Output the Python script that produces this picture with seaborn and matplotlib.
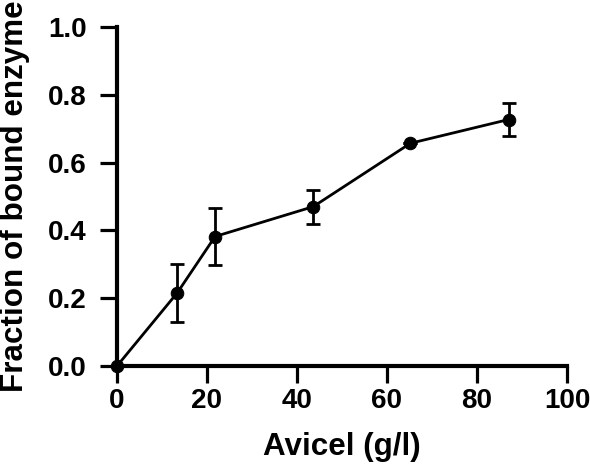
import numpy as np
import matplotlib
matplotlib.use('Agg')
import matplotlib.pyplot as plt
import seaborn as sns
import pandas as pd

# Avicel loading (g/l) vs fraction of bound enzyme
avicel = [0, 13.4, 21.8, 43.6, 65.2, 87.0]
bound = [0.0, 0.216, 0.382, 0.470, 0.657, 0.727]
bound_err = [0.0, 0.085, 0.084, 0.050, 0.0, 0.050]

df = pd.DataFrame({'Avicel (g/l)': avicel, 'Fraction of bound enzyme': bound})

sns.set_style('ticks')
plt.rcParams['font.family'] = ['Liberation Sans', 'DejaVu Sans']
plt.rcParams['font.weight'] = 'bold'
plt.rcParams['text.color'] = 'black'
plt.rcParams['axes.labelcolor'] = 'black'
plt.rcParams['xtick.color'] = 'black'
plt.rcParams['ytick.color'] = 'black'

fig = plt.figure(figsize=(5.9, 4.66), dpi=100)
ax = fig.add_axes([117 / 590, 100 / 466, 450 / 590, 339 / 466])

sns.lineplot(data=df, x='Avicel (g/l)', y='Fraction of bound enzyme', ax=ax,
             color='black', linewidth=2, marker='o', markersize=9,
             markeredgecolor='black', zorder=3)
ax.errorbar(avicel, bound, yerr=bound_err, fmt='none', ecolor='black',
            elinewidth=2, capsize=5, capthick=2, zorder=2)

ax.set_xlim(0, 100)
ax.set_ylim(0, 1.0)
ax.set_xticks([0, 20, 40, 60, 80, 100])
ax.set_yticks([0.0, 0.2, 0.4, 0.6, 0.8, 1.0])
ax.set_yticklabels(['0.0', '0.2', '0.4', '0.6', '0.8', '1.0'])

ax.set_xlabel('Avicel (g/l)', fontsize=22.6, fontweight='bold', labelpad=13)
ax.set_ylabel('Fraction of bound enzyme', fontsize=22.6, fontweight='bold', labelpad=13)
ax.tick_params(axis='both', labelsize=20, width=2.3, length=12, color='black',
               labelcolor='black')
ax.tick_params(axis='x', pad=4)
ax.tick_params(axis='y', pad=10)
for lbl in ax.get_xticklabels() + ax.get_yticklabels():
    lbl.set_fontweight('bold')

for side in ['left', 'bottom']:
    ax.spines[side].set_linewidth(3)
    ax.spines[side].set_color('black')
sns.despine(ax=ax)
for s in ax.spines.values():
    s.set_clip_on(False)
for line in ax.lines:
    line.set_clip_on(False)

fig.savefig('out.png', dpi=100)
